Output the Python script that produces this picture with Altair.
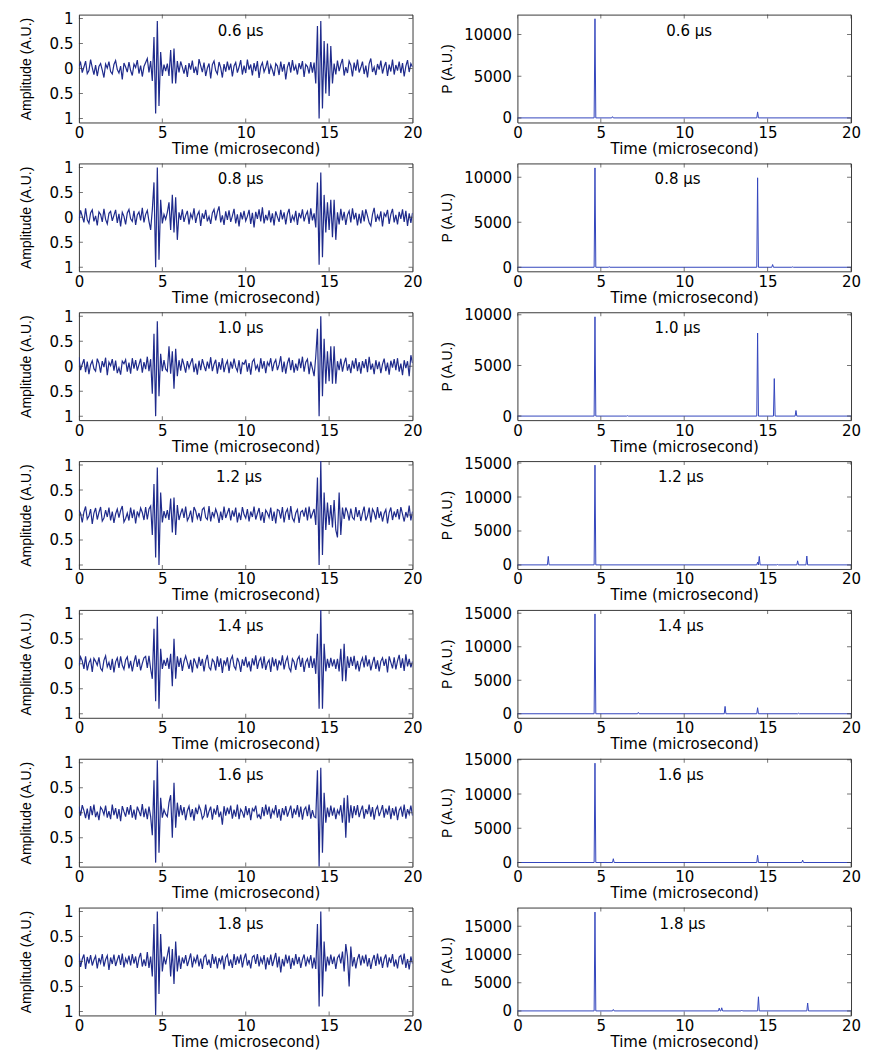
import altair as alt
import pandas as pd

# ---------------- data ----------------
LABELS = ["0.6 \u03bcs", "0.8 \u03bcs", "1.0 \u03bcs", "1.2 \u03bcs", "1.4 \u03bcs", "1.6 \u03bcs", "1.8 \u03bcs"]
STEP = 0.1  # microseconds between samples of the amplitude traces

# amplitude traces (hundredths of A.U.), one sample every 0.1 us from 0 to 20 us
AMP_06 = [5, 12, -8, 3, 15, -10, -4, 18, 2, -12,
          7, -15, 4, 10, -3, -18, 9, 1, 14, -6,
          -11, 8, 16, -2, -9, 5, -22, 11, 3, -7,
          13, -4, -14, 9, 2, 17, -10, 6, -16, 4,
          12, 20, -8, 15, -25, 63, -90, 95, -75, 33,
          -15, 8, -5, 10, -15, 37, -30, 40, -30, 15,
          -8, 14, 3, -10, 7, -17, 11, -2, 16, -9,
          4, -13, 19, 6, -7, 12, -15, 1, 10, -20,
          8, 15, -4, -11, 13, 2, -18, 9, -6, 14,
          -3, 10, -16, 5, 12, -8, 3, 17, -12, 6,
          -9, 18, -2, 8, -14, 11, -5, 15, -19, 4,
          12, -7, 2, 16, -11, 7, -3, -15, 10, 5,
          -13, 14, -6, 9, -22, 3, 13, -8, 17, -4,
          6, -12, 11, -1, 15, -17, 8, 4, -10, 13,
          -8, 12, -30, 85, -100, 95, -80, 55, -50, 50,
          -55, 45, -30, 10, -12, 16, -5, 9, 19, -14,
          3, -9, 15, 7, -16, 12, -4, 18, -8, 2,
          14, -11, 6, -18, 10, 20, -7, 3, -13, 9,
          -2, 16, -10, 4, 13, -15, 8, -6, 18, -12,
          7, -4, 14, -9, 11, -16, 5, 17, -7, 10,
          3]
AMP_08 = [-6, 14, 2, -10, 18, -5, -12, 9, 15, -8,
          3, -16, 11, 6, -9, 17, -4, -13, 8, 12,
          -7, 4, 15, -11, 7, -18, 10, 2, -14, 9,
          16, -3, -8, 13, -15, 5, 11, -6, 19, -10,
          6, 14, -8, -25, 15, 70, -100, 100, -85, 35,
          -12, 6, -4, 10, 30, -25, 45, -30, 40, -45,
          10, -5, 16, -9, 4, 13, -14, 7, -2, 18,
          -11, 5, 12, -17, 8, -3, 15, -8, 2, -13,
          9, 16, -6, 11, 22, -10, 4, -15, 12, -5,
          14, -9, 3, 17, -12, 6, -18, 10, -4, 13,
          -7, 2, 15, -13, 9, -20, 11, -3, 16, -8,
          20, -12, 5, -6, 14, -10, 8, -16, 12, 1,
          -9, 15, -4, 10, -14, 7, 17, -11, 3, -6,
          13, -15, 9, -2, 16, -8, 5, 12, -13, 18,
          -6, 8, -20, 70, -95, 90, -80, 45, -30, 30,
          -25, 35, -40, 35, -45, 10, -14, 17, -6, 11,
          -15, 5, 13, -10, 18, -4, 9, -16, 7, -12,
          14, -8, 16, 3, -11, -17, 6, 19, -9, 4,
          -5, 12, -18, 8, 2, 15, -13, 6, 17, -10,
          5, -14, 11, -3, 16, -9, 13, -17, 8, -11,
          9]
AMP_10 = [18, -8, 4, 14, -12, 9, -16, 3, 11, -5,
          -10, 15, 6, -13, 10, -2, 17, -18, 8, 1,
          14, -9, 11, -14, -3, -17, 10, 5, 13, -11,
          7, -15, 16, -5, 12, -9, 3, 15, -13, 8,
          -6, 19, -10, 14, -55, 65, -100, 90, -60, 25,
          -10, 12, -6, -10, 40, -15, 30, -45, 35, -20,
          12, -9, 15, 2, -13, 10, -4, 7, 16, -12,
          5, -17, 11, -8, 14, 1, -10, 9, -5, 18,
          -10, 4, 13, -15, 8, -7, 16, -12, 3, 11,
          -14, 9, -5, 15, -2, -10, 12, -16, 7, 4,
          13, -11, 6, -17, 9, 14, -6, 2, -12, 16,
          -5, 10, -14, 8, 1, 16, -10, 6, 13, -8,
          3, 20, -12, 9, -15, 6, 17, -8, 12, -13,
          5, -9, 15, -4, 19, -11, 8, 14, -16, 9,
          -5, -20, 20, 75, -100, 100, -60, 55, -35, 30,
          -30, 40, -35, 40, -35, 10, -8, 15, -11, 6,
          17, -9, 4, -14, 11, -5, 16, -10, 8, -15,
          10, -4, 14, -12, 19, -7, 5, -16, 12, -6,
          9, -14, 4, 15, -10, 7, -17, 11, -3, 14,
          -8, 16, -11, 5, -18, 12, -4, 10, -20, 22,
          6]
AMP_12 = [10, 3, -15, 6, 17, -8, -2, 12, -18, 4,
          14, -9, 5, 16, -12, -6, 10, -4, 15, -11,
          7, -16, 2, 12, -5, 9, 18, -14, -7, 4,
          -11, 15, -6, 11, -17, 7, -3, 14, 5, -10,
          16, -9, 12, 18, -40, 62, -85, 95, -100, 45,
          -15, 8, -6, 10, -10, 33, -35, 35, -40, 20,
          -10, 3, 13, -6, 17, -11, -4, 9, -15, 16,
          8, -7, 4, -12, 11, 15, -5, -9, 18, -13,
          6, -4, 12, 2, -16, 7, -10, 17, -6, 4,
          14, -11, 9, -3, 15, -15, 5, -10, 16, 1,
          -6, 12, -13, 7, -4, 17, -9, 3, 14, -11,
          6, -16, 10, 4, -5, 15, -12, 7, -17, 11,
          9, -7, 16, -15, 5, 12, -10, 18, -6, -13,
          4, 11, -16, 6, 9, -3, 15, -11, 17, -7,
          3, 12, -20, 75, -100, 108, -80, 45, -30, 25,
          -20, 20, -25, 30, -30, -45, 45, -40, 15, -8,
          15, 6, -11, 13, -5, -9, 16, -4, 10, -12,
          4, 17, -11, -2, 15, -15, 12, 5, -9, 16,
          -6, 7, -13, 3, 11, -17, 5, 15, -10, 7,
          -4, 12, -9, 16, 2, -13, 6, -5, 19, -11,
          7]
AMP_14 = [-4, 14, 6, -10, 15, -13, 2, 9, -16, 11,
          5, -3, 13, -9, -14, 7, 16, -6, 3, -12,
          10, -17, 4, 12, -8, 15, -3, -11, 8, 14,
          -9, 6, -15, 3, 17, -6, 10, -13, 1, 12,
          15, -8, 16, -10, -30, 70, -75, 95, -90, 30,
          -10, 8, -4, 12, -10, 20, -45, 50, -30, 15,
          -6, 12, -14, 5, 16, 3, -10, 8, -17, 11,
          2, -9, 14, -4, 10, -15, 6, 18, -7, -12,
          9, 4, -13, 15, -6, 11, -18, 7, -2, 13,
          -14, 8, 16, -5, -11, 12, 3, -16, 9, -4,
          14, -7, 5, -15, 11, -3, 17, -10, 6, 12,
          -9, 15, -12, 2, 8, -16, 13, -5, 10, -13,
          7, -3, 17, -11, 5, 14, -8, -15, 10, 4,
          -12, 9, 15, -6, 12, -16, 4, 10, -8, 16,
          -8, 11, -20, 60, -90, 110, -90, 40, -15, 10,
          -8, 12, -5, 9, -10, 10, -15, 30, -35, 40,
          -35, 15, -8, 14, -4, 16, -11, 6, -15, 3,
          12, -7, 17, -5, 9, -13, 2, 14, -10, 7,
          -15, 5, 12, -4, 10, -17, 15, 3, -9, 13,
          -11, 6, 18, -8, 11, -14, 19, -5, 10, -7,
          5]
AMP_16 = [12, -6, 15, 4, -11, 8, -14, 13, -5, 16,
          -9, 2, -15, 11, 6, -4, 14, -10, 3, -13,
          16, -5, 9, -12, 7, -17, 13, 2, -8, 11,
          -4, 15, -10, 6, -14, 12, 3, -7, 17, -9,
          8, -13, 12, -8, -45, 65, -100, 105, -80, 30,
          -10, 6, -3, -8, 20, 35, -50, 60, -30, 20,
          -8, 15, -5, 11, -15, 4, 13, -9, 7, -16,
          10, -3, 14, 5, -12, -6, 16, -10, 3, 12,
          -14, 8, -4, 15, -9, 2, -24, 13, -6, 10,
          -3, 14, -12, 6, -8, 16, -13, 7, 1, -10,
          13, -5, 9, -15, 8, 3, 14, -9, -4, -13,
          11, -7, 16, -4, 12, -12, 6, -2, 15, -10,
          7, -16, 9, -5, 13, -8, 3, 14, -11, 8,
          -4, 15, -9, 12, -14, 6, 11, -7, 16, -12,
          5, -8, -10, 85, -110, 90, -80, 40, -20, 10,
          -9, 14, -6, 10, -13, 5, -3, 15, -20, 30,
          -50, 35, -20, 15, -11, 13, -5, 15, -9, 4,
          14, -12, 7, -3, 16, -8, 11, -14, 6, 13,
          -7, 3, 15, -10, 8, -4, 14, -13, 9, -6,
          12, -15, 5, 11, -8, 16, -12, 7, -3, 14,
          -6]
AMP_18 = [16, -11, 5, 14, -15, 9, -4, 13, -8, 3,
          11, -14, 7, -3, 15, -10, 4, 12, -17, 8,
          -5, 14, -9, 3, 13, -7, 16, -12, 6, -3,
          12, -8, 15, -4, 10, -13, 7, 17, -10, 4,
          -9, 19, -13, 10, -30, 75, -107, 100, -65, 55,
          -20, 10, -6, 12, 30, -30, 25, -45, 40, -20,
          12, -15, 8, -4, 13, -9, 3, 16, -12, 7,
          -2, 14, -10, 6, -15, 9, 13, -7, 4, -13,
          15, -5, 10, -14, 7, -3, 12, -16, 8, 14,
          -9, 4, -13, 15, -7, 10, -4, 14, -12, 6,
          16, -8, 3, -14, 9, 12, -5, 15, -10, 7,
          -3, 13, -16, 8, -7, 14, -9, 4, 17, -12,
          10, -22, 5, -10, 14, -4, 12, -15, 7, -8,
          15, -5, 9, -13, 4, 14, -10, 7, -3, 13,
          -14, 8, -15, 75, -90, 100, -70, 40, -20, 10,
          -8, 14, -5, 10, -15, 7, 13, -4, 20, -20,
          35, 10, -50, 30, -10, 9, -14, 5, 15, -8,
          12, -4, 14, -10, 7, -15, 3, 13, -9, 16,
          -6, 10, -13, 5, 14, -12, 8, -3, 15, -10,
          4, -14, 9, 12, -6, 16, -13, 5, -16, 10,
          -4]
AMPS = [AMP_06, AMP_08, AMP_10, AMP_12, AMP_14, AMP_16, AMP_18]

# P(t) spectra: (time in us, peak height in A.U.)
P_06 = [(4.65, 11900), (5.7, 150), (14.4, 720)]
P_08 = [(4.65, 11050), (5.5, 60), (14.4, 9950), (15.3, 300), (16.5, 40)]
P_10 = [(4.65, 9800), (6.6, 40), (14.4, 8200), (15.4, 3700), (16.7, 550)]
P_12 = [(1.85, 1250), (4.65, 14700), (14.4, 400), (14.5, 1250), (15.6, 60), (16.8, 600), (17.35, 1300)]
P_14 = [(4.65, 14900), (7.25, 200), (12.45, 1100), (14.4, 900), (16.85, 80)]
P_16 = [(4.65, 14500), (5.75, 550), (14.4, 1050), (17.1, 350)]
P_18 = [(4.65, 17500), (5.75, 250), (12.1, 500), (12.25, 550), (13.45, 150), (14.45, 2500), (17.4, 1400)]
PS = [P_06, P_08, P_10, P_12, P_14, P_16, P_18]

P_DOMAINS = [(-550, 12400), (-450, 11550), (-400, 10250), (-600, 15300),
             (-600, 15500), (-600, 15150), (-800, 18300)]
P_TICKS = [[0, 5000, 10000]] * 3 + [[0, 5000, 10000, 15000]] * 4
AMP_DOMAIN = (-1.08, 1.08)
AMP_TICKS = [-1, -0.5, 0, 0.5, 1]
TIME_TICKS = [0, 5, 10, 15, 20]
LABEL_X_LEFT = [9.7, 9.7, 9.7, 9.6, 9.7, 9.7, 9.7]
LABEL_X_RIGHT = [10.3, 9.6, 9.6, 9.8, 9.8, 9.8, 9.9]

# ---------------- style ----------------
W, H = 334, 108
FRAME = "#3a3a3a"
LEFT_COLOR = "#1f2b8c"
RIGHT_COLOR = "#3345bd"
FONT = "DejaVu Sans"
YFONT = "Liberation Sans Narrow, Liberation Sans, sans-serif"
TIME_SCALE = alt.Scale(domain=[0, 20], nice=False, zero=False)

X_AXIS = dict(values=TIME_TICKS, title="Time (microsecond)", format="d",
              labelFont=FONT, labelFontSize=15, titleFont=FONT, titleFontSize=15,
              titleFontWeight="normal", labelPadding=3, titlePadding=1,
              ticks=False, domain=False, grid=False, labelColor="black",
              titleColor="black", labelFlush=False)


def y_axis(values, title, title_pad, **kw):
    return alt.Axis(values=values, title=title, labelFont=FONT, labelFontSize=15,
                    titleFont=YFONT, titleFontSize=14, titleFontWeight="normal",
                    labelPadding=6, titlePadding=title_pad, ticks=False, domain=False,
                    grid=False, labelColor="black", titleColor="black", **kw)


def panel(df, yfield, ys, yax, y_vals, color, width, label, label_x):
    xenc = lambda f: alt.X(f, scale=TIME_SCALE, axis=alt.Axis(**X_AXIS))
    yenc = lambda f: alt.Y(f, scale=ys, axis=yax)
    line = alt.Chart(df).mark_line(color=color, strokeWidth=width, clip=True).encode(
        x=xenc("t:Q"), y=yenc(yfield), order="t:Q")
    xt = pd.DataFrame({"t": TIME_TICKS})
    yt = pd.DataFrame({yfield.split(":")[0]: y_vals})
    tk = dict(size=8, thickness=1, color=FRAME, clip=True)
    layers = [line,
              alt.Chart(xt).mark_tick(orient="vertical", **tk).encode(x=xenc("t:Q"), y=alt.value(H)),
              alt.Chart(xt).mark_tick(orient="vertical", **tk).encode(x=xenc("t:Q"), y=alt.value(0)),
              alt.Chart(yt).mark_tick(orient="horizontal", **tk).encode(y=yenc(yfield), x=alt.value(0)),
              alt.Chart(yt).mark_tick(orient="horizontal", **tk).encode(y=yenc(yfield), x=alt.value(W)),
              alt.Chart(pd.DataFrame({"t": [label_x], "s": [label]})).mark_text(
                  font=FONT, fontSize=15, color="black", baseline="middle", align="center").encode(
                  x=xenc("t:Q"), y=alt.value(16), text="s:N")]
    return alt.layer(*layers).properties(width=W, height=H)


def left_panel(i):
    vals = AMPS[i]
    df = pd.DataFrame({"t": [k * STEP for k in range(len(vals))],
                       "a": [v / 100 for v in vals]})
    ys = alt.Scale(domain=list(AMP_DOMAIN), nice=False, zero=False)
    yax = y_axis(AMP_TICKS, "Amplitude (A.U.)", 16,
                 labelExpr="format(abs(datum.value), '~g')")
    return panel(df, "a:Q", ys, yax, AMP_TICKS, LEFT_COLOR, 1.2, LABELS[i], LABEL_X_LEFT[i])


def right_panel(i):
    pts = [(0.0, 0.0), (20.0, 0.0)]
    for t, h in PS[i]:
        pts += [(t - 0.05, 0.0), (t, float(h)), (t + 0.05, 0.0)]
    pts.sort()
    df = pd.DataFrame(pts, columns=["t", "p"])
    ys = alt.Scale(domain=list(P_DOMAINS[i]), nice=False, zero=False)
    yax = y_axis(P_TICKS[i], "P (A.U.)", 9, format="d")
    return panel(df, "p:Q", ys, yax, P_TICKS[i], RIGHT_COLOR, 1.0, LABELS[i], LABEL_X_RIGHT[i])


panels = []
for i in range(7):
    panels += [left_panel(i), right_panel(i)]

chart = alt.concat(*panels, columns=2, spacing={"row": 41, "column": 105},
                   bounds="flush").properties(
    padding={"left": 10, "top": 2, "right": 5, "bottom": 5}
).configure_view(stroke=FRAME, strokeWidth=1)

chart.save("out.html", embed_options={"renderer": "svg", "actions": False})
